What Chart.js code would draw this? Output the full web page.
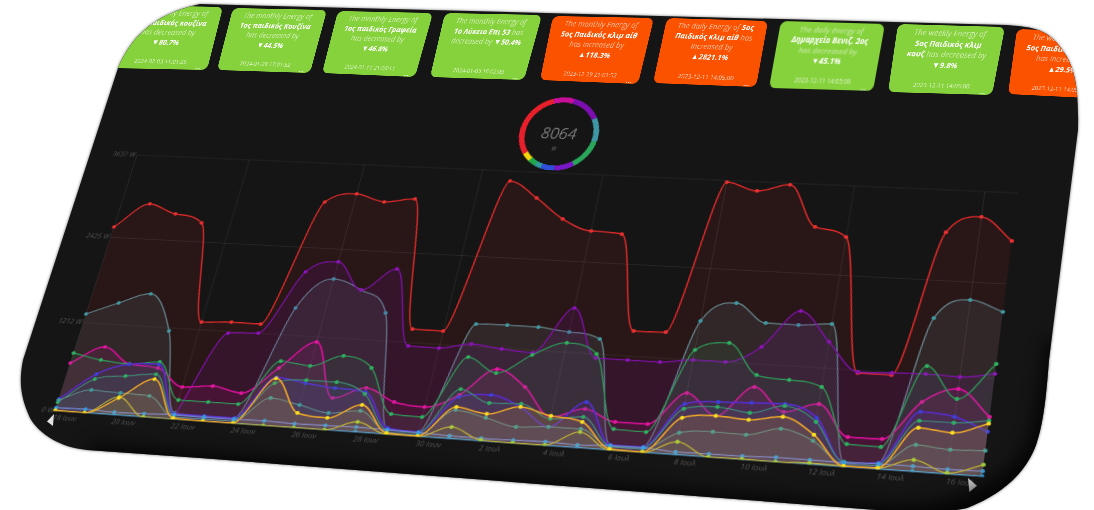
<!DOCTYPE html>
<html><head><meta charset="utf-8">
<script src="https://cdn.jsdelivr.net/npm/chart.js@4"></script>
<style>
html,body{margin:0;padding:0;background:#fff;width:1094px;height:510px;overflow:hidden}
#shadow{position:absolute;left:0;top:0;width:1094px;height:510px;filter:drop-shadow(0 0 1.5px rgba(0,0,0,.55))}
#root{position:absolute;left:0;top:0;width:1094px;height:510px;background:#151515;overflow:hidden;
clip-path:path('M200 4 L1007 25 C1040 27 1052 32 1067 57 C1075 72 1079 90 1078 130 L1049 360 C1046 400 1043 425 1036 445 C1025 475 1000 495 967 508 C950 512 920 513 890 511 L200 458 L87 450 C60 447 40 435 30 418 C22 400 18 385 23 360 L118 68 C130 40 150 15 200 4 Z')}
.warp{position:absolute;left:0;top:0;transform-origin:0 0}
.card{width:200px;height:126px;border-radius:12px;color:#fff;font-family:"Open Sans",sans-serif;font-style:italic;font-size:14.8px;line-height:19.5px;text-align:center;padding:4px 6px 0;box-sizing:border-box;filter:blur(.5px)}
.card span{opacity:.62}.card b{font-weight:700}
.card .d{position:absolute;left:0;right:0;bottom:9px;font-size:11.5px;line-height:12px;font-style:normal;opacity:.75}
.card .m{position:absolute;right:14px;bottom:0;font-size:13px;line-height:12px;font-style:normal;font-weight:700;opacity:.8}
#gauge{width:100px;height:100px}
#gtxt{position:absolute;left:0;right:0;top:35px;text-align:center;font:italic 300 20px "Open Sans",sans-serif;color:#adadad;letter-spacing:.2px}
#gunit{position:absolute;left:-6px;right:0;top:65px;text-align:center;font:italic 7px "Open Sans",sans-serif;color:#777}
#lineWrap{filter:blur(.35px)}
#vign{position:absolute;left:0;top:0}
.tri{position:absolute;background:#e4e4e4}
</style></head><body>
<div id="shadow"><div id="root">
<div id="cards"></div>
<div id="lineWrap" class="warp"><canvas id="lineChart" width="1010" height="345"></canvas></div>
<div id="gauge" class="warp"><canvas id="gaugeChart" width="100" height="100"></canvas><div id="gtxt"></div><div id="gunit"></div></div>
<div class="tri" style="left:47px;top:414px;width:7px;height:12px;clip-path:polygon(0 62%,100% 0,85% 100%)"></div>
<div class="tri" style="left:968px;top:478px;width:9px;height:14px;background:#cfcfcf;clip-path:polygon(0 0,100% 55%,15% 100%)"></div>
<svg id="vign" width="1094" height="510"><defs><filter id="b"><feGaussianBlur stdDeviation="9"/></filter></defs>
<path d="M87 458 L890 519 C950 520 1010 500 1040 450 C1050 420 1055 380 1060 340" fill="none" stroke="#000" stroke-width="26" filter="url(#b)" opacity=".8"/></svg>
</div></div>
<script>
// ---- chart data ----
const dayLabels=['18 Ιουν','19 Ιουν','20 Ιουν','21 Ιουν','22 Ιουν','23 Ιουν','24 Ιουν','25 Ιουν','26 Ιουν','27 Ιουν','28 Ιουν','29 Ιουν','30 Ιουν','1 Ιουλ','2 Ιουλ','3 Ιουλ','4 Ιουλ','5 Ιουλ','6 Ιουλ','7 Ιουλ','8 Ιουλ','9 Ιουλ','10 Ιουλ','11 Ιουλ','12 Ιουλ','13 Ιουλ','14 Ιουλ','15 Ιουλ','16 Ιουλ','17 Ιουλ'];
const yTickValues=[0,1212,2425,3637];
const redValues=[2574,2931,2805,2695,1318,1341,1339,3077,3215,3119,3181,1394,1392,3496,3275,2998,2852,2830,1542,1552,3614,3510,3615,3054,2937,1175,1177,3065,3293,2992];
const purpleValues=[null,null,null,null,20,1190,1215,2084,2248,1880,2194,1166,1164,1243,1203,1176,1800,1160,1160,1160,1213,1213,1434,1928,1550,1189,1203,1216,1205,1270];
const slateValues=[1332,1511,1662,1170,85,73,74,1583,2009,1880,1588,72,62,1511,1522,1520,1479,1411,69,73,1724,1985,1746,1744,1783,63,81,1933,2192,2061];
const greenValues=[790,720,692,745,258,259,259,861,821,982,847,267,256,1070,885,1149,1335,1214,272,262,1343,1460,1071,1034,972,284,277,1318,929,1396];
const magentaValues=[652,899,692,663,432,472,405,767,1145,422,582,424,386,570,938,729,369,499,361,363,787,521,918,628,756,371,375,863,1054,733];
const indigoValues=[162,526,687,712,72,73,74,644,592,553,528,86,62,543,597,470,242,589,69,73,647,699,715,729,582,63,81,741,707,552];
const tealValues=[121,459,526,578,59,60,61,565,631,632,502,60,49,647,494,509,345,397,57,61,584,636,589,704,532,63,69,630,633,687];
const orangeValues=[10,5,231,512,18,6,8,630,197,160,358,21,10,414,352,470,383,333,19,10,470,523,501,567,370,14,20,543,510,650];
const steelValues=[148,311,298,285,32,33,34,367,302,225,280,34,23,375,301,213,242,244,45,48,281,321,313,417,296,39,45,333,301,319];
const oliveValues=[5,3,244,4,3,3,4,5,5,5,136,5,3,155,17,8,11,204,3,3,167,6,11,4,21,14,20,148,18,147];
const periwinkleValues=[45,52,40,48,62,58,60,66,56,62,68,62,55,42,38,44,52,40,62,66,40,44,46,60,58,55,70,70,62,70];
const skyValues=[4,6,8,5,6,4,7,6,8,5,7,6,4,8,6,7,5,9,6,5,8,7,6,9,7,6,8,9,7,10];
const gaugeValues=[2419,694,1075,874,1075,650,470,224,269,314];
const gaugeColors=['#e8202c','#c8109a','#7c0fb0','#3f97a6','#2aa65a','#7a18c8','#2f4fd8','#2f9a9a','#1fa84a','#f4d40c'];
const totalValue='8064', totalUnit='W';
const cardTexts=[
['The monthly Energy of','2ος παιδικός κουζίνα','has decreased by','▼80.7%','2024-02-03 11:01:25'],
['The monthly Energy of','1ος παιδικός Κουζίνα','has decreased by','▼44.5%','2024-01-29 17:01:52'],
['The monthly Energy of','1ος παιδικός Γραφεία','has decreased by','▼46.8%','2024-01-11 21:06:11'],
['The monthly Energy of','1ο Λύκειο Επι 53',' has<br>decreased by ','▼50.4%','2024-01-03 16:02:09'],
['The monthly Energy of','5ος Παιδικός κλιμ αίθ','has increased by','▲118.3%','2023-12-29 21:01:52'],
['The daily Energy of ','5ος<br>Παιδικός κλιμ αίθ',' has<br>increased by','▲2821.1%','2023-12-11 14:05:00'],
['The daily Energy of','Δημαρχείο Βενιζ. 2ος','has decreased by','▼45.1%','2023-12-11 14:05:00'],
['The weekly Energy of','5ος Παιδικός κλιμ<br>κουζ',' has decreased by','▼9.8%','2023-12-11 14:05:00'],
['The weekly Energy of','5ος Παιδικός κλιμ αίθ','has increased by','▲29.5%','2023-12-11 14:05:00']];
const cardIsUp=[false,false,false,false,true,true,false,false,true];

// ---- styling ----
const cardGreen='#86d23c', cardOrange='#fb5200';
const cardQuads=[[[127,5],[223,7],[207,70],[110,68]],[[233,8],[327,10],[310,73],[217,70]],[[338,11],[433,13],[415,77],[322,73]],[[445,13],[542,15],[524,80],[430,77]],[[553,16],[654,18],[638,84],[540,80]],[[667,18],[768,21],[756,87],[653,83]],[[781,21],[885,24],[873,91],[769,88]],[[898,24],[1005,27],[992,95],[888,92]],[[1017,29],[1122,33],[1108,99],[1008,94]]];
const plotQuad=[[137,155],[1018,193],[982,477],[55,411]];
const gaugeQuad=[[526.5,96],[605.5,99],[591.5,172],[512.5,169]];
const seriesStyles=[
 {d:orangeValues,c:'#f2a928',p:'#f8dc20',a:.13,w:1.6},
 {d:oliveValues,c:'#b8b23a',p:'#9ccf3c',a:.05,w:1.3},
 {d:skyValues,c:'#3aa0e8',p:'#2f9fe8',a:.05,w:1.3},
 {d:periwinkleValues,c:'#7484d8',p:'#3a9ce0',a:.05,w:1.3},
 {d:steelValues,c:'#5e8a8c',p:'#3f9c9c',a:.10,w:1.2},
 {d:tealValues,c:'#3f8f78',p:'#2fae62',a:.10,w:1.2},
 {d:indigoValues,c:'#5a2cd0',p:'#3f3fd8',a:.10,w:1.7},
 {d:greenValues,c:'#2f9a58',p:'#2fb060',a:.10,w:1.3},
 {d:magentaValues,c:'#d8109a',p:'#e0189c',a:.12,w:1.7},
 {d:purpleValues,c:'#7e12a8',p:'#8a14b4',a:.13,w:1.4},
 {d:slateValues,c:'#66888f',p:'#3f98a0',a:.15,w:1.3},
 {d:redValues,c:'#e02b2b',p:'#e83030',a:.1,w:1.5}];
function rgba(h,a){const n=parseInt(h.slice(1),16);return `rgba(${n>>16},${(n>>8)&255},${n&255},${a})`}

// rectangle (x,y,w,h) -> picture quad, as a CSS matrix
function warp(el,r,q){
 const [[x0,y0],[x1,y1],[x2,y2],[x3,y3]]=q;
 const dx1=x1-x2,dx2=x3-x2,sx=x0-x1+x2-x3,dy1=y1-y2,dy2=y3-y2,sy=y0-y1+y2-y3;
 const den=dx1*dy2-dx2*dy1;
 const g=(sx*dy2-dx2*sy)/den,h=(dx1*sy-sx*dy1)/den;
 const a=x1-x0+g*x1,b=x3-x0+h*x3,c=x0,d=y1-y0+g*y1,e=y3-y0+h*y3,f=y0;
 const A=a/r.w,B=b/r.h,C=c-a*r.x/r.w-b*r.y/r.h,D=d/r.w,E=e/r.h,F=f-d*r.x/r.w-e*r.y/r.h,G=g/r.w,H=h/r.h,I=1-g*r.x/r.w-h*r.y/r.h;
 el.style.transform=`matrix3d(${[A,D,0,G,B,E,0,H,0,0,1,0,C,F,0,I].join(',')})`;
}

// cards
const host=document.getElementById('cards');
cardTexts.forEach((t,i)=>{
 const el=document.createElement('div');el.className='warp card';
 el.style.background=cardIsUp[i]?cardOrange:cardGreen;
 el.innerHTML=`<span>${t[0]}</span>${t[0].endsWith(' ')?'':'<br>'}<b>${t[1]}</b>${t[2].startsWith(' ')?'':'<br>'}<span>${t[2]}</span>${t[2].endsWith(' ')?'':'<br>'}<b>${t[3]}</b><div class="d">${t[4]}</div><div class="m">...</div>`;
 host.appendChild(el);
 warp(el,{x:0,y:0,w:200,h:126},cardQuads[i]);
});

// main line chart
const lc=new Chart(document.getElementById('lineChart'),{
 type:'line',
 data:{labels:dayLabels,datasets:seriesStyles.map(s=>({data:s.d,borderColor:s.c,backgroundColor:rgba(s.c,s.a),fill:'origin',cubicInterpolationMode:'monotone',borderWidth:s.w,pointRadius:2.2,pointBorderWidth:0,pointBackgroundColor:s.p}))},
 options:{responsive:false,animation:false,devicePixelRatio:2,
  layout:{padding:{left:4,right:30,top:10,bottom:0}},
  plugins:{legend:{display:false},tooltip:{enabled:false}},
  scales:{
   x:{grid:{drawTicks:false,color:c=>c.index%2===0?'rgba(255,255,255,.075)':'rgba(0,0,0,0)'},border:{display:false},
      ticks:{autoSkip:false,maxRotation:0,align:'start',padding:3,color:'#565656',font:{family:'"Open Sans"',size:8,style:'italic'},callback(v,i){return i%2===0?dayLabels[i]:null}}},
   y:{min:0,max:3637,afterBuildTicks(a){a.ticks=yTickValues.map(v=>({value:v}))},
      grid:{drawTicks:false,color:'rgba(255,255,255,.075)'},border:{display:false},
      ticks:{padding:2,color:'#565656',font:{family:'"Open Sans"',size:8,style:'italic'},callback(v){return v+' W'}}}
  }}
});
const ca=lc.chartArea;
warp(document.getElementById('lineWrap'),{x:ca.left,y:ca.top,w:ca.right-ca.left,h:ca.bottom-ca.top},plotQuad);

// gauge
new Chart(document.getElementById('gaugeChart'),{type:'doughnut',
 data:{datasets:[{data:gaugeValues,backgroundColor:gaugeColors,borderWidth:0}]},
 options:{responsive:false,animation:false,devicePixelRatio:3,rotation:234,cutout:'86%',layout:{padding:0},plugins:{legend:{display:false},tooltip:{enabled:false}}}});
document.getElementById('gtxt').textContent=totalValue;
document.getElementById('gunit').textContent=totalUnit;
warp(document.getElementById('gauge'),{x:0,y:0,w:100,h:100},gaugeQuad);
</script></body></html>
